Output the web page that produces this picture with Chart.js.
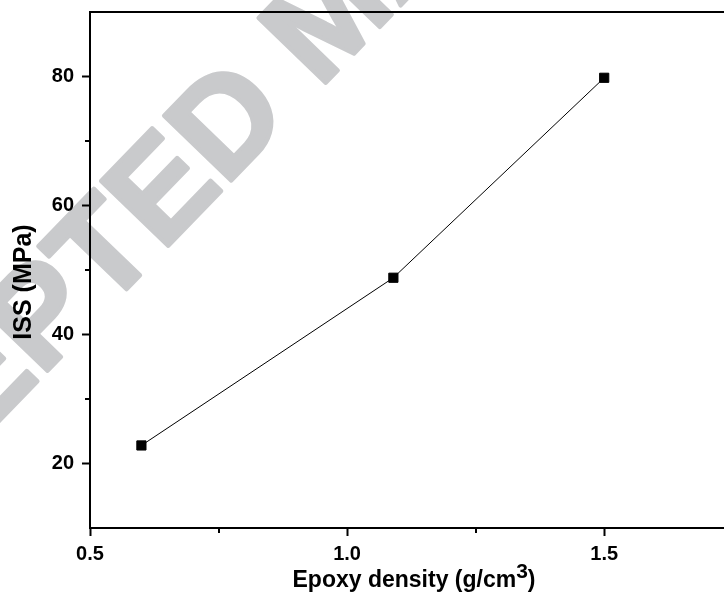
<!DOCTYPE html>
<html>
<head>
<meta charset="utf-8">
<script src="https://cdn.jsdelivr.net/npm/chart.js@4.4.0/dist/chart.umd.min.js"></script>
<style>
    html, body { margin: 0; padding: 0; background: #fff; }
    #wrap { width: 724px; height: 601px; position: relative; }
</style>
</head>
<body>
<div id="wrap"><canvas id="issChart"></canvas></div>
<script>
// Data
const densities = [0.6, 1.09, 1.5];
const issValues = [22.8, 48.8, 79.8];

// Axis ticks
const xMajorTicks = [0.5, 1.0, 1.5];
const xMinorTicks = [0.75, 1.25];
const yMajorTicks = [20, 40, 60, 80];
const yMinorTicks = [30, 50, 70];

// Texts
const xTitleMain = 'Epoxy density (g/cm';
const xTitleSup = '3';
const xTitleEnd = ')';
const yTitle = 'ISS (MPa)';
const watermark = 'ACCEPTED MANUSCRIPT';

const FONT = '"Liberation Sans", Arial, sans-serif';

// gray watermark behind everything
const watermarkPlugin = {
    id: 'watermark',
    beforeDraw(chart) {
        const ctx = chart.ctx;
        const size = 136;
        const angle = -46 * Math.PI / 180;
        ctx.save();
        ctx.font = 'bold ' + size + 'px ' + FONT;
        const w1 = ctx.measureText('ACCEPTE').width;
        const wD = ctx.measureText('D').width;
        const lx = w1 + wD / 2, ly = -0.36 * size;
        const ox = lx * Math.cos(angle) - ly * Math.sin(angle);
        const oy = lx * Math.sin(angle) + ly * Math.cos(angle);
        ctx.translate(224 - ox, 118 - oy);
        ctx.rotate(angle);
        ctx.fillStyle = '#c9cacc';
        ctx.strokeStyle = '#c9cacc';
        ctx.lineWidth = 4;
        ctx.lineJoin = 'round';
        ctx.textBaseline = 'alphabetic';
        ctx.fillText(watermark, 0, 0);
        ctx.strokeText(watermark, 0, 0);
        ctx.restore();
    }
};

// minor ticks + axis titles
const decorPlugin = {
    id: 'decor',
    afterDraw(chart) {
        const ctx = chart.ctx;
        const xs = chart.scales.x, ys = chart.scales.y;
        const area = chart.chartArea;
        ctx.save();
        ctx.strokeStyle = '#000';
        ctx.lineWidth = 2;
        xMinorTicks.forEach(v => {
            const px = Math.round(xs.getPixelForValue(v));
            ctx.beginPath();
            ctx.moveTo(px, area.bottom);
            ctx.lineTo(px, area.bottom + 5);
            ctx.stroke();
        });
        yMinorTicks.forEach(v => {
            const py = Math.round(ys.getPixelForValue(v));
            ctx.beginPath();
            ctx.moveTo(area.left, py);
            ctx.lineTo(area.left - 5, py);
            ctx.stroke();
        });

        // x title with superscript
        ctx.fillStyle = '#000';
        ctx.textBaseline = 'alphabetic';
        ctx.textAlign = 'left';
        const fMain = 'bold 23px ' + FONT;
        const fSup = 'bold 21px ' + FONT;
        ctx.font = fMain;
        const wMain = ctx.measureText(xTitleMain).width;
        const wEnd = ctx.measureText(xTitleEnd).width;
        ctx.font = fSup;
        const wSup = ctx.measureText(xTitleSup).width;
        const total = wMain + wSup + wEnd;
        const x0 = 414 - total / 2;
        const base = 587;
        ctx.font = fMain;
        ctx.fillText(xTitleMain, x0, base);
        ctx.font = fSup;
        ctx.fillText(xTitleSup, x0 + wMain, base - 9);
        ctx.font = fMain;
        ctx.fillText(xTitleEnd, x0 + wMain + wSup, base);

        // y title rotated
        ctx.translate(24, 282);
        ctx.rotate(-Math.PI / 2);
        ctx.font = 'bold 25px ' + FONT;
        ctx.textAlign = 'center';
        ctx.textBaseline = 'middle';
        ctx.fillText(yTitle, 0, 0);
        ctx.restore();
    }
};

const xMin = 0.5, xMax = 1.733;

new Chart(document.getElementById('issChart'), {
    type: 'line',
    data: {
        datasets: [{
            data: densities.map((d, i) => ({ x: d, y: issValues[i] })),
            borderColor: '#000',
            borderWidth: 1,
            backgroundColor: '#000',
            pointStyle: 'rect',
            pointRadius: 6.5,
            pointBorderWidth: 1,
            pointBackgroundColor: '#000',
            pointBorderColor: '#000',
            tension: 0,
            fill: false
        }]
    },
    options: {
        responsive: true,
        maintainAspectRatio: false,
        animation: false,
        layout: { autoPadding: false, padding: { top: 12, right: 0, bottom: 0, left: 0 } },
        plugins: {
            legend: { display: false },
            tooltip: { enabled: false }
        },
        scales: {
            x: {
                type: 'linear',
                position: 'bottom',
                min: xMin,
                max: xMax,
                afterBuildTicks: s => { s.ticks = xMajorTicks.map(v => ({ value: v })); },
                afterFit: s => { s.height = 73; s.paddingLeft = 0; s.paddingRight = 0; },
                ticks: {
                    color: '#000',
                    font: { family: FONT, size: 20, weight: 'bold' },
                    padding: 6,
                    maxRotation: 0,
                    autoSkip: false,
                    callback: v => Number(v).toFixed(1)
                },
                grid: {
                    drawOnChartArea: false,
                    drawTicks: true,
                    tickLength: 8,
                    tickColor: '#000',
                    tickWidth: 2
                },
                border: { color: '#000', width: 2 }
            },
            xTop: {
                type: 'linear',
                position: 'top',
                min: xMin,
                max: xMax,
                afterFit: s => { s.height = 0; s.paddingLeft = 0; s.paddingRight = 0; },
                ticks: { display: false },
                grid: { display: false },
                border: { color: '#000', width: 2 }
            },
            y: {
                type: 'linear',
                min: 10,
                max: 90,
                afterBuildTicks: s => { s.ticks = yMajorTicks.map(v => ({ value: v })); },
                afterFit: s => { s.width = 90; s.paddingTop = 0; s.paddingBottom = 0; },
                ticks: {
                    color: '#000',
                    font: { family: FONT, size: 20, weight: 'bold' },
                    padding: 8
                },
                grid: {
                    drawOnChartArea: false,
                    drawTicks: true,
                    tickLength: 8,
                    tickColor: '#000',
                    tickWidth: 2
                },
                border: { color: '#000', width: 2 }
            }
        }
    },
    plugins: [watermarkPlugin, decorPlugin]
});
</script>
</body>
</html>
